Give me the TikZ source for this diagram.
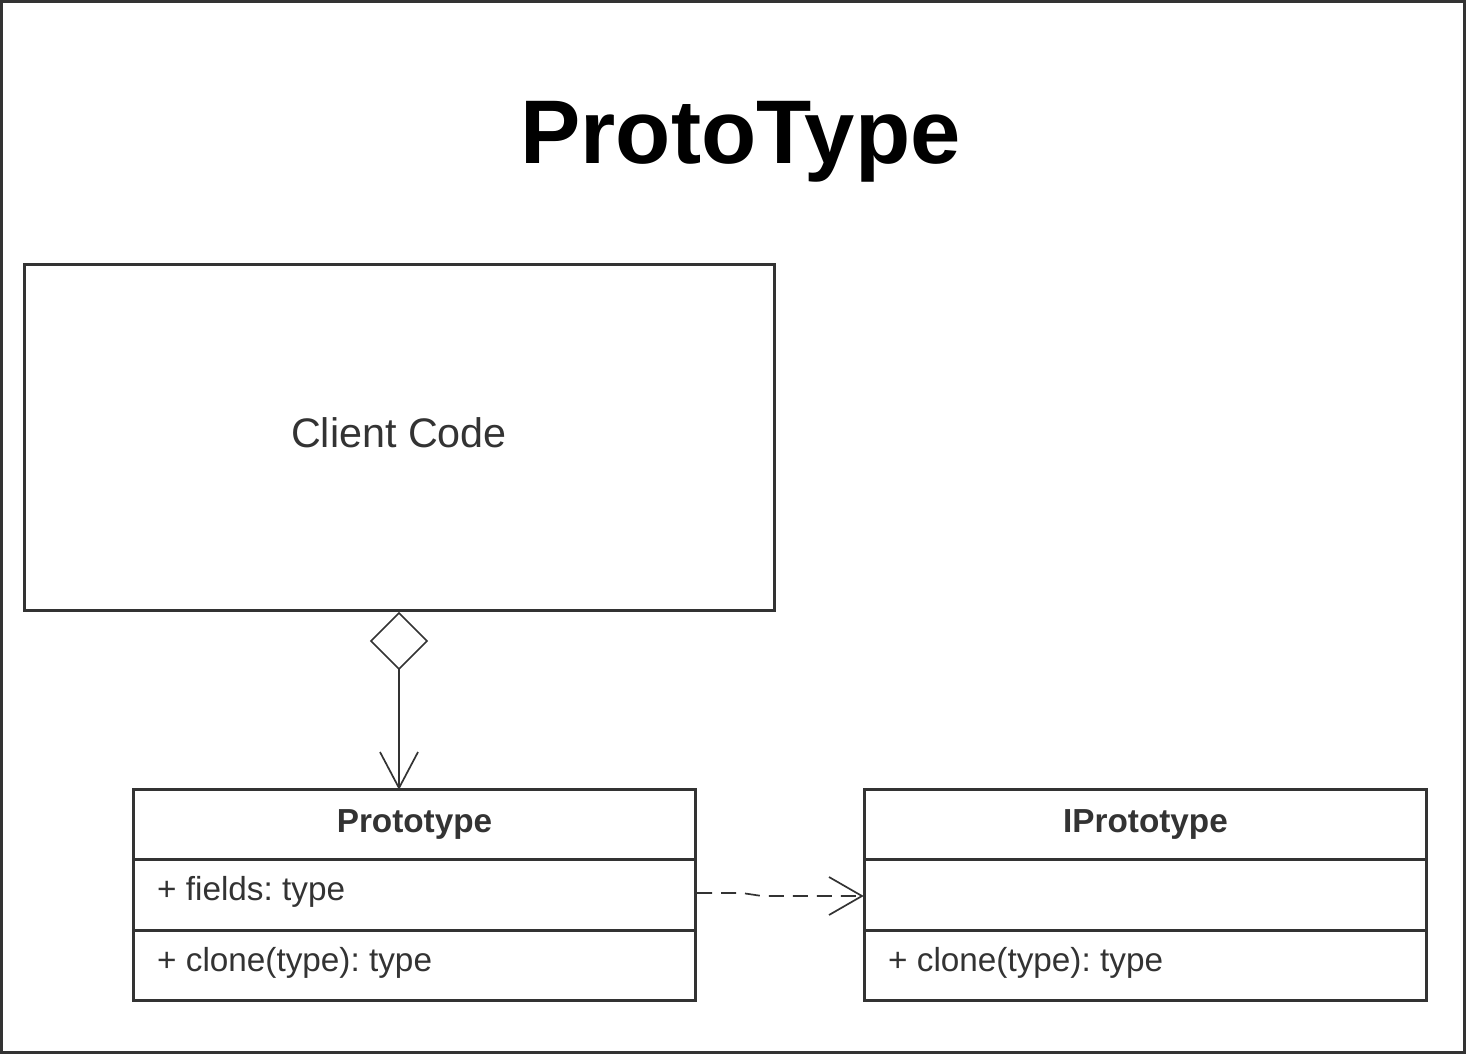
\documentclass[tikz,border=0pt]{standalone}
\usepackage{fontspec}
\setmainfont{Liberation Sans}
\frenchspacing
\usetikzlibrary{arrows.meta}
\definecolor{ink}{HTML}{333333}
\begin{document}
\begin{tikzpicture}[x=1pt,y=-1pt,
  boxline/.style={draw=ink,line width=3pt},
  txt/.style={text=ink,inner sep=0pt,font=\fontsize{33.3}{38}\selectfont},
  thin/.style={draw=ink,line width=1.7pt}]
\useasboundingbox (0,0) rectangle (1466,1054);
\draw[draw=ink,line width=3pt] (1.5,1.5) rectangle (1464.5,1052.5);
\node[inner sep=0pt,anchor=base,font=\fontsize{90.4}{100}\selectfont\bfseries] (title) at (740.5,163) {ProtoType};
% Client code
\draw[boxline] (24.5,264.5) rectangle (774.5,610.5);
\coordinate (cc) at (399,610.5);
\node[txt,anchor=base,font=\fontsize{41.3}{48}\selectfont] (client) at (399,447) {Client Code};
% Prototype box
\draw[boxline] (133.5,789.5) rectangle (695.5,1000.5);
\draw[boxline] (133.5,859.5) -- (695.5,859.5);
\draw[boxline] (133.5,930.5) -- (695.5,930.5);
\coordinate (ptop) at (399,788);
\coordinate (pright) at (697,893);
\node[txt,anchor=base,font=\fontsize{33.3}{38}\selectfont\bfseries] (pname) at (414.5,832) {Prototype};
\node[txt,anchor=base west] (pfield) at (157,900) {+ fields: type};
\node[txt,anchor=base west] (pmeth) at (157,971) {+ clone(type): type};
% IPrototype box
\draw[boxline] (864.5,789.5) rectangle (1426.5,1000.5);
\draw[boxline] (864.5,859.5) -- (1426.5,859.5);
\draw[boxline] (864.5,930.5) -- (1426.5,930.5);
\coordinate (ileft) at (862,896);
\node[txt,anchor=base,font=\fontsize{33.3}{38}\selectfont\bfseries] (iname) at (1145.5,832) {IPrototype};
\node[txt,anchor=base west] (imeth) at (888,971) {+ clone(type): type};
% aggregation
\draw[thin,line join=miter] (399,613) -- (427,641) -- (399,669) -- (371,641) -- cycle;
\coordinate (dbot) at (399,669);
\draw[thin] (dbot) -- (ptop);
\draw[thin] (380,752) -- (ptop) -- (418,752);
% dependency
\coordinate (kink1) at (742,893);
\coordinate (kink2) at (762,896);
\draw[thin,dash pattern=on 15pt off 9pt] (pright) -- (kink1) -- (kink2) -- (ileft);
\draw[thin] (829,877) -- (ileft) -- (829,915);
\end{tikzpicture}
\end{document}
